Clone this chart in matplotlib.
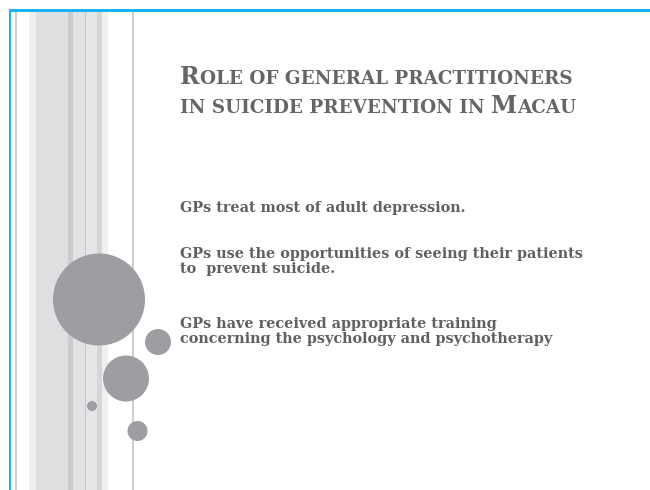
import matplotlib.pyplot as plt
from matplotlib.patches import Rectangle, Circle

# ---- slide content ----
title_lines = [
    [("R", "big"), ("OLE OF GENERAL PRACTITIONERS", "small")],
    [("IN SUICIDE PREVENTION IN ", "small"), ("M", "big"), ("ACAU", "small")],
]
title_baselines = [84, 113]

body_lines = [
    "GPs treat most of adult depression.",
    "GPs use the opportunities of seeing their patients",
    "to  prevent suicide.",
    "GPs have received appropriate training",
    "concerning the psychology and psychotherapy",
]
body_baselines = [212, 258, 273, 328, 343]

# left decoration: stripes (x0, x1, colour) and bubbles (x, y, r)
stripe_x0 = [15, 29, 36, 68, 72.5, 85, 86, 96.5, 101.5, 132]
stripe_x1 = [16.5, 36, 68, 72.5, 85, 86, 96.5, 101.5, 108, 133.5]
stripe_col = ['#d0d0d0', '#efefef', '#dedfe1', '#cbcbcd', '#e2e3e5',
              '#c6c6c8', '#e6e6e8', '#d6d6d8', '#f0f0f1', '#cfcfcf']

bubble_x = [99, 158, 126, 92, 137.5]
bubble_y = [299.5, 342, 378.5, 406, 431]
bubble_r = [46, 13, 23, 5, 10]

W, H = 650, 490
fig = plt.figure(figsize=(W / 100, H / 100), dpi=100)
ax = fig.add_axes([0, 0, 1, 1])
ax.set_xlim(0, W)
ax.set_ylim(H, 0)
ax.axis('off')

for x0, x1, c in zip(stripe_x0, stripe_x1, stripe_col):
    ax.add_patch(Rectangle((x0, 12), x1 - x0, H - 12, color=c, lw=0))

# blue frame
ax.add_patch(Rectangle((8.7, 9.3), W, 2.7, color='#1ab3ef', lw=0))
ax.add_patch(Rectangle((8.7, 9.3), 2.0, H, color='#1ab3ef', lw=0))

for x, y, r in zip(bubble_x, bubble_y, bubble_r):
    ax.add_patch(Circle((x, y), r, color='#9d9ea2', lw=0))

# title in small caps, pieces placed one after another
renderer = fig.canvas.get_renderer()
sizes = {"big": 17.0, "small": 13.2}
tcol = '#666666'
for pieces, yb in zip(title_lines, title_baselines):
    x = 180
    for txt, kind in pieces:
        t = ax.text(x, yb, txt.rstrip(), fontsize=sizes[kind], fontweight='bold',
                    family='DejaVu Serif', color=tcol, va='baseline', ha='left')
        x += t.get_window_extent(renderer).width
        if txt.endswith(" "):
            x += sizes[kind] * 0.45

for txt, yb in zip(body_lines, body_baselines):
    ax.text(180, yb, txt, fontsize=10.4, fontweight='bold', family='DejaVu Serif',
            color='#606060', va='baseline', ha='left')

fig.savefig('out.png', dpi=100)
